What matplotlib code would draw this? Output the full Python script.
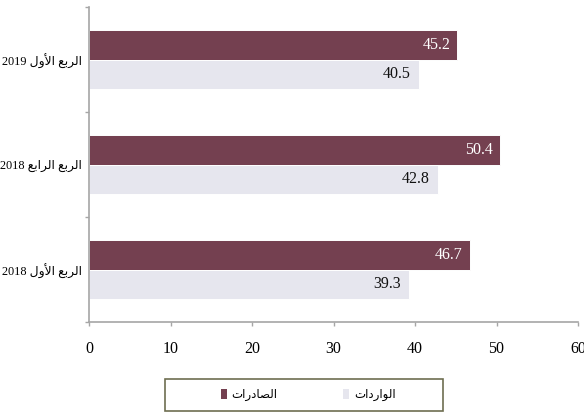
import matplotlib
matplotlib.use("Agg")
import matplotlib.pyplot as plt
from matplotlib.patches import Rectangle, Patch
from matplotlib import font_manager

# ---- data -------------------------------------------------------------
quarters = ["الربع الأول 2018", "الربع الرابع 2018", "الربع الأول 2019"]
exports = [46.7, 50.4, 45.2]
imports = [39.3, 42.8, 40.5]
series_names = ["الصادرات", "الواردات"]
x_ticks = [0, 10, 20, 30, 40, 50, 60]

EXPORT_COLOR = "#744050"
IMPORT_COLOR = "#E6E6EE"
SPINE_COLOR = "#A6A6A6"
FONTS = ["Liberation Serif", "DejaVu Sans"]

# prefer a narrower Arabic-capable face when one is available
_names = {f.name for f in font_manager.fontManager.ttflist}
ARABIC = ["Liberation Serif"] + [n for n in ("DejaVu Sans Condensed",) if n in _names] + ["DejaVu Sans"]

# ---- minimal Arabic shaping (contextual forms + right-to-left order) ---
# letter: (isolated, final, initial, medial); None = does not join forward
FORMS = {
    "ا": ("\uFE8D", "\uFE8E", None, None),
    "أ": ("\uFE83", "\uFE84", None, None),
    "ل": ("\uFEDD", "\uFEDE", "\uFEDF", "\uFEE0"),
    "ر": ("\uFEAD", "\uFEAE", None, None),
    "ب": ("\uFE8F", "\uFE90", "\uFE91", "\uFE92"),
    "ع": ("\uFEC9", "\uFECA", "\uFECB", "\uFECC"),
    "و": ("\uFEED", "\uFEEE", None, None),
    "ص": ("\uFEB9", "\uFEBA", "\uFEBB", "\uFEBC"),
    "د": ("\uFEA9", "\uFEAA", None, None),
    "ت": ("\uFE95", "\uFE96", "\uFE97", "\uFE98"),
}
LAM_ALEF = {"أ": ("\uFEF7", "\uFEF8"), "ا": ("\uFEFB", "\uFEFC")}


def shape_word(word):
    units, i = [], 0
    while i < len(word):
        c = word[i]
        if c == "ل" and i + 1 < len(word) and word[i + 1] in LAM_ALEF:
            units.append(("LA", word[i + 1]))
            i += 2
        else:
            units.append(("C", c))
            i += 1
    out = []
    for k, (kind, c) in enumerate(units):
        prev_joins = (k > 0 and units[k - 1][0] == "C"
                      and FORMS[units[k - 1][1]][2] is not None)
        if kind == "LA":
            iso, fin = LAM_ALEF[c]
            out.append(fin if prev_joins else iso)
            continue
        iso, fin, ini, med = FORMS[c]
        can_next = ini is not None and k + 1 < len(units)
        if prev_joins and can_next:
            out.append(med)
        elif prev_joins:
            out.append(fin)
        elif can_next:
            out.append(ini)
        else:
            out.append(iso)
    return "".join(reversed(out))


def rtl(text):
    tokens = text.split(" ")
    shaped = [shape_word(t) if any(ch in FORMS for ch in t) else t for t in tokens]
    return " ".join(reversed(shaped))


# ---- figure -----------------------------------------------------------
fig = plt.figure(figsize=(5.84, 4.13), dpi=100)
ax = fig.add_axes([89 / 584, 1 - 322 / 413, 489 / 584, 315 / 413])

pos = list(range(len(quarters)))
h = 0.28
ax.barh([p + h / 2 for p in pos], exports, height=h, color=EXPORT_COLOR,
        edgecolor="white", linewidth=0.7)
ax.barh([p - h / 2 for p in pos], imports, height=h, color=IMPORT_COLOR,
        edgecolor="white", linewidth=0.7)

for p, v in zip(pos, exports):
    ax.annotate(f"{v}", xy=(v, p + h / 2), xytext=(-5, 0),
                textcoords="offset points", ha="right", va="center",
                color="white", fontsize=11.5, family=FONTS)
for p, v in zip(pos, imports):
    ax.annotate(f"{v}", xy=(v, p - h / 2), xytext=(-6, 0),
                textcoords="offset points", ha="right", va="center",
                color="#111111", fontsize=11.5, family=FONTS)

ax.set_xlim(0, 60)
ax.set_ylim(-0.5, len(quarters) - 0.5)
ax.set_xticks(x_ticks)
ax.set_xticklabels([str(t) for t in x_ticks], family=FONTS, fontsize=11.5)
ax.tick_params(axis="x", direction="out", length=3, width=1, color=SPINE_COLOR,
               pad=11)

ax.set_yticks([p - 0.5 for p in pos] + [len(quarters) - 0.5])
ax.set_yticklabels([])
ax.set_yticks(pos, minor=True)
ax.set_yticklabels([rtl(q) for q in quarters], minor=True, family=ARABIC,
                   fontsize=8.8)
ax.tick_params(axis="y", which="major", direction="out", length=3, width=1,
               color=SPINE_COLOR)
ax.tick_params(axis="y", which="minor", length=0, pad=5)

for side in ("top", "right"):
    ax.spines[side].set_visible(False)
for side in ("left", "bottom"):
    ax.spines[side].set_color(SPINE_COLOR)
    ax.spines[side].set_linewidth(1.2)

# legend box
fig.patches.append(Rectangle((165 / 584, 1 - 411 / 413), 278 / 584, 32 / 413,
                             transform=fig.transFigure, facecolor="white",
                             edgecolor="#6E6E50", linewidth=1.2))
handles = [Patch(facecolor=EXPORT_COLOR, edgecolor="none", label=rtl(series_names[0])),
           Patch(facecolor=IMPORT_COLOR, edgecolor="none", label=rtl(series_names[1]))]
fig.legend(handles=handles, loc="center", bbox_to_anchor=(308 / 584, 1 - 395 / 413),
           ncol=2, frameon=False, handlelength=0.55, handleheight=0.85,
           handletextpad=0.4, columnspacing=5.5,
           prop={"family": ARABIC, "size": 8.5})

fig.savefig("out.png", dpi=100)
